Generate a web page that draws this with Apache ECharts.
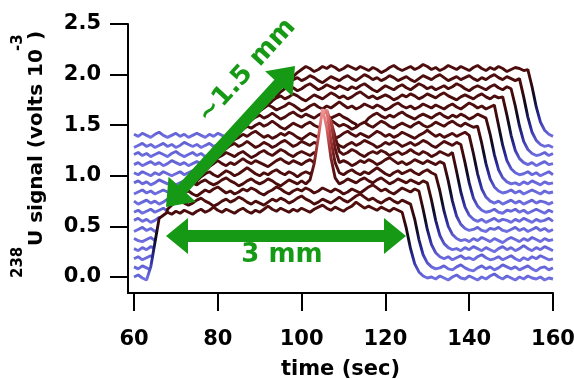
<!DOCTYPE html>
<html>
<head>
<meta charset="utf-8">
<script src="https://cdn.jsdelivr.net/npm/echarts@6/dist/echarts.min.js"></script>
<style>
  html, body { margin: 0; padding: 0; background: #fff; }
  #main { width: 574px; height: 379px; }
</style>
</head>
<body>
<div id="main"></div>
<script>
// scans sampled every 1 s from t = 60 s, values in 1e-5 V (hundredths of the axis unit)
var tStart = 60;
var xTicks = [60, 80, 100, 120, 140, 160];
var yTicks = [0, 0.5, 1.0, 1.5, 2.0, 2.5];
// waterfall offset of each scan, front (0) to back (15)
var offsets = [-0.02, 0.07, 0.17, 0.26, 0.35, 0.45, 0.54, 0.63, 0.72, 0.82, 0.91, 1.00, 1.10, 1.19, 1.28, 1.38];

var scan0 = [
  2,4,1,-1,12,36,60,63,66,64, 67,65,68,66,64,67,69,66,68,71,
  68,66,69,67,65,68,70,67,65,68, 66,69,72,69,67,70,68,66,69,67,
  70,68,66,69,71,73,70,68,71,69, 67,70,72,76,73,70,72,70,68,71,
  69,67,70,68,66,50,30,15,7,3, 1,2,0,3,1,-1,2,4,1,0,
  3,1,-1,2,0,3,5,2,0,3, 1,-1,2,0,3,1,0,2,-1,1, 0];
var scan1 = [
  3,1,4,2,0,2,14,38,60,64, 67,69,66,64,66,69,71,68,66,63,
  65,68,70,67,69,72,70,67,65,68, 66,64,67,70,68,71,69,66,68,71,
  73,70,68,65,67,70,68,66,69,72, 69,67,70,73,75,72,69,71,68,66,
  69,71,68,66,69,67,65,50,30,15, 7,3,1,2,4,1,0,3,5,2,
  0,-1,2,4,1,3,0,2,5,3, 1,3,0,2,4,1,-1,2,3,0, 2];
var scan2 = [
  1,3,0,2,4,2,0,2,14,38, 60,63,66,68,65,63,66,69,67,70,
  72,69,66,68,65,67,70,68,71,69, 66,64,67,69,72,70,67,65,68,70,
  68,71,69,66,68,71,69,67,70,68, 65,67,70,68,66,69,72,74,71,68,
  70,67,65,68,71,69,67,70,68,50, 30,15,7,3,1,3,0,2,4,1,
  2,0,3,5,2,0,1,3,0,2, 4,1,-1,2,0,3,1,4,2,0, 1];
var scan3 = [
  2,0,3,1,4,2,0,3,1,2, 14,38,60,64,67,65,68,70,67,65,
  67,70,72,69,67,64,66,69,71,68, 66,68,71,69,66,64,67,70,68,66,
  69,66,70,86,112,140,122,92,72,66, 68,71,69,67,70,72,69,67,70,72,
  69,66,68,71,69,67,70,68,66,69, 67,50,30,15,7,3,1,2,0,3,
  1,4,2,0,3,1,-1,2,4,1, 3,0,2,5,2,0,3,1,4,2, 0];
var scan4 = [
  3,1,0,2,4,1,3,0,2,4, 1,3,2,14,38,60,64,67,69,66,
  64,67,70,68,65,67,70,73,70,67, 65,68,66,69,71,68,66,69,67,64,
  67,69,67,70,95,125,130,100,78,68, 66,69,71,68,66,69,67,70,73,70,
  67,65,68,70,67,69,71,68,66,69, 71,68,66,50,30,15,7,3,1,2,
  0,3,1,4,2,0,3,1,-1,2, 4,2,0,3,1,4,2,0,3,1, 2];
var scan5 = [
  0,2,4,1,3,0,2,4,2,0, 3,1,4,2,2,14,38,60,64,67,
  70,67,65,68,66,69,72,69,67,70, 68,66,64,67,70,72,69,67,70,68,
  66,69,71,68,80,105,120,108,82,68, 70,68,65,67,70,68,71,69,66,68,
  71,73,70,67,69,66,68,71,69,67, 70,68,66,69,67,50,30,15,7,3,
  1,2,4,1,0,3,2,4,1,0, 2,4,1,3,0,2,4,1,3,0, 2];
var scan6 = [
  2,4,1,3,0,2,5,3,1,2, 4,1,3,0,2,4,2,14,38,60,
  64,66,69,67,65,68,70,67,64,66, 69,71,68,66,69,72,70,67,65,68,
  70,68,66,69,67,80,98,100,85,70, 67,69,72,70,67,65,68,70,68,71,
  69,66,68,70,67,69,72,69,67,70, 68,65,67,70,68,66,69,50,30,15,
  7,3,1,3,0,2,4,1,3,2, 0,3,1,4,2,0,3,1,2,4, 1];
var scan7 = [
  1,3,0,2,4,1,3,5,2,0, 2,4,1,3,0,2,4,1,2,14,
  38,60,64,67,69,66,68,71,68,65, 67,70,68,65,67,70,72,69,66,68,
  71,69,67,70,68,66,69,72,70,67, 65,68,70,67,69,72,70,68,65,67,
  70,68,71,69,66,68,70,67,69,72, 70,67,65,68,71,69,67,70,68,50,
  30,15,7,3,1,2,4,1,0,3, 2,4,1,3,0,2,4,2,0,3, 1];
var scan8 = [
  3,0,2,4,1,3,0,2,5,3, 1,3,0,2,4,2,0,3,1,4,
  2,14,38,60,64,66,69,67,70,72, 69,66,68,65,67,70,68,71,69,66,
  64,67,70,68,66,69,71,68,65,67, 70,72,69,67,70,68,66,69,72,70,
  67,69,66,68,71,69,67,65,68,70, 73,70,67,69,66,68,70,67,69,71,
  68,50,30,15,7,3,1,3,0,2, 4,1,3,0,2,4,1,3,2,0, 2];
var scan9 = [
  0,2,4,1,3,0,2,4,2,0, 3,5,2,0,2,4,1,3,0,2,
  4,1,2,14,38,60,64,67,65,68, 70,67,69,72,69,66,64,67,70,68,
  66,69,71,68,66,68,71,73,70,67, 69,67,64,66,69,71,68,66,69,72,
  70,67,65,68,70,68,66,69,71,68, 66,68,71,69,67,70,72,69,67,70,
  68,66,67,50,30,15,7,3,1,2, 4,1,3,0,2,4,2,0,3,1, 2];
var scan10 = [
  2,4,1,3,0,2,5,3,1,3, 0,2,4,1,3,0,2,4,1,3,
  0,2,4,1,2,14,38,60,64,67, 69,66,68,71,68,65,67,70,72,69,
  67,70,68,66,69,71,69,66,68,70, 67,65,62,60,48,61,66,69,71,68,
  66,69,67,70,72,69,67,65,68,70, 68,66,69,71,68,66,69,67,70,68,
  65,67,70,68,66,50,30,15,7,3, 1,2,0,3,1,4,2,0,3,1, 2];
var scan11 = [
  3,1,4,2,0,3,1,4,2,0, 2,4,1,3,5,2,0,3,1,4,
  2,0,3,1,4,2,2,14,38,60, 64,67,70,68,65,67,69,72,70,67,
  64,66,69,71,68,66,69,67,70,73, 70,67,69,66,68,71,69,67,70,68,
  65,67,70,72,69,67,69,66,68,71, 69,67,70,68,66,69,71,68,66,69,
  72,70,67,69,66,68,70,50,30,15, 7,3,1,2,4,1,3,0,2,4, 1];
var scan12 = [
  1,3,0,2,4,1,3,0,2,5, 3,1,3,0,2,4,2,0,3,1,
  4,2,0,3,1,4,2,0,3,2, 14,38,60,64,67,69,66,68,71,69,
  66,64,67,70,68,66,69,72,70,67, 69,66,68,71,73,70,67,69,66,68,
  70,68,65,67,70,68,71,69,66,68, 71,69,67,70,72,69,67,65,68,70,
  68,66,69,71,68,66,69,67,68,50, 30,15,7,3,1,3,0,2,4,1, 2];
var scan13 = [
  2,4,1,3,0,2,4,2,0,3, 5,2,0,2,4,1,3,0,2,4,
  1,3,0,2,4,2,0,3,1,4, 2,2,14,38,60,64,67,70,68,65,
  67,70,72,69,66,68,71,69,67,70, 68,66,69,67,70,72,69,66,64,67,
  70,68,66,69,71,68,66,69,72,70, 67,69,66,68,70,67,69,72,70,67,
  65,68,70,68,66,69,71,68,66,69, 67,50,30,15,7,3,1,2,4,1, 3];
var scan14 = [
  0,2,4,1,3,0,2,4,1,3, 0,2,5,3,1,3,0,2,4,1,
  3,0,2,4,2,0,3,1,4,2, 0,3,1,2,14,38,60,64,67,69,
  66,68,71,69,66,64,67,70,68,66, 69,71,68,66,69,72,70,67,69,66,
  68,71,69,66,68,70,67,65,68,71, 69,67,70,72,69,66,68,70,67,69,
  71,68,66,69,67,70,72,69,67,70, 68,66,68,50,30,15,7,3,1,2, 0];
var scan15 = [
  3,1,4,2,0,3,5,2,0,2, 4,1,3,0,2,4,2,0,3,1,
  4,2,0,3,1,3,0,2,4,1, 3,0,2,4,1,2,14,38,60,64,
  67,70,68,65,67,70,68,71,69,66, 68,71,69,67,70,68,66,69,67,64,
  66,69,71,68,66,68,70,67,69,72, 70,67,69,66,68,71,69,67,70,68,
  66,69,71,68,66,69,67,70,68,65, 67,69,68,66,67,50,30,15,7,3, 1];

var scans = [scan0, scan1, scan2, scan3, scan4, scan5, scan6, scan7,
             scan8, scan9, scan10, scan11, scan12, scan13, scan14, scan15];

// colour by height above each scan's own baseline (-0.2 .. 1.6 in 0.2 steps)
var ramp = ['#7070e2', '#7070e2', '#2a2a9c', '#0a0a20', '#420909',
            '#5c1212', '#a03434', '#d86464', '#f29a9a', '#f29a9a'];
var green = '#169a16';
var font = 'DejaVu Sans';

var series = [];
var visualMap = [];
// back scan first, each one hides what lies under the scans in front of it
for (var k = scans.length - 1; k >= 0; k--) {
  var off = offsets[k];
  var data = scans[k].map(function (v, i) { return [tStart + i, off + v / 100]; });
  var depth = scans.length - 1 - k;
  series.push({
    type: 'line', data: data, showSymbol: false, silent: true, z: 2 + 2 * depth,
    lineStyle: { width: 0, opacity: 0 },
    areaStyle: { color: '#fff', opacity: 1, origin: 'start' }
  });
  series.push({
    type: 'line', data: data, showSymbol: false, silent: true, z: 3 + 2 * depth,
    lineStyle: { width: 2.9 }
  });
  visualMap.push({
    type: 'continuous', show: false, seriesIndex: series.length - 1, dimension: 1,
    min: off - 0.2, max: off + 1.6, inRange: { color: ramp }
  });
}

function arrowPts(x1, y1, x2, y2, hl, hw, sw) {
  var dx = x2 - x1, dy = y2 - y1, L = Math.sqrt(dx * dx + dy * dy);
  var ux = dx / L, uy = dy / L, nx = -uy, ny = ux;
  function P(a, b) { return [x1 + ux * a + nx * b, y1 + uy * a + ny * b]; }
  return [P(0, 0), P(hl, hw), P(hl, sw), P(L - hl, sw), P(L - hl, hw),
          P(L, 0), P(L - hl, -hw), P(L - hl, -sw), P(hl, -sw), P(hl, -hw)];
}

var axisFont = { color: '#000', fontFamily: font, fontWeight: 'bold', fontSize: 21 };

var chart = echarts.init(document.getElementById('main'));
chart.setOption({
  animation: false,
  textStyle: { fontFamily: font },
  grid: { left: 128, right: 21, top: 24, bottom: 86, outerBoundsMode: 'none' },
  xAxis: {
    type: 'value', min: 58.57, max: 160, z: 100,
    name: 'time (sec)', nameLocation: 'middle', nameGap: 66,
    nameTextStyle: axisFont,
    axisLine: { onZero: false, lineStyle: { color: '#000', width: 2 } },
    axisTick: { customValues: xTicks, length: 18, lineStyle: { color: '#000', width: 2 } },
    axisLabel: Object.assign({ customValues: xTicks, margin: 36 }, axisFont),
    splitLine: { show: false }
  },
  yAxis: {
    type: 'value', min: -0.158, max: 2.5, z: 100,
    axisLine: { show: true, onZero: false, lineStyle: { color: '#000', width: 2 } },
    axisTick: { show: true, customValues: yTicks, length: 18, lineStyle: { color: '#000', width: 2 } },
    axisLabel: Object.assign({
      customValues: yTicks, margin: 27,
      formatter: function (v) { return v.toFixed(1); }
    }, axisFont),
    splitLine: { show: false }
  },
  visualMap: visualMap,
  series: series,
  graphic: [
    {
      type: 'group', x: 47, y: 278, rotation: Math.PI / 2, z: 100,
      children: [
        { type: 'text', x: 0, y: -21, style: { text: '238', font: 'bold 15px "DejaVu Sans"', fill: '#000', align: 'left', verticalAlign: 'bottom' } },
        { type: 'text', x: 32, y: 0, style: { text: 'U signal (volts 10', font: 'bold 20px "DejaVu Sans"', fill: '#000', align: 'left', verticalAlign: 'bottom' } },
        { type: 'text', x: 227, y: -21, style: { text: '-3', font: 'bold 15px "DejaVu Sans"', fill: '#000', align: 'left', verticalAlign: 'bottom' } },
        { type: 'text', x: 238, y: 0, style: { text: ')', font: 'bold 20px "DejaVu Sans"', fill: '#000', align: 'left', verticalAlign: 'bottom' } }
      ]
    },
    { type: 'polygon', z: 200, shape: { points: arrowPts(166, 236, 406, 236, 22, 18, 6) }, style: { fill: green } },
    { type: 'polygon', z: 200, shape: { points: arrowPts(166, 207, 295, 66, 24, 18.5, 6) }, style: { fill: green } },
    { type: 'text', z: 200, x: 282, y: 255, style: { text: '3 mm', font: 'bold 26px "DejaVu Sans"', fill: green, align: 'center', verticalAlign: 'middle' } },
    { type: 'text', z: 200, x: 247, y: 71, rotation: Math.atan2(141, 129), style: { text: '~1.5 mm', font: 'bold 26px "DejaVu Sans"', fill: green, align: 'center', verticalAlign: 'middle' } }
  ]
});
</script>
</body>
</html>
